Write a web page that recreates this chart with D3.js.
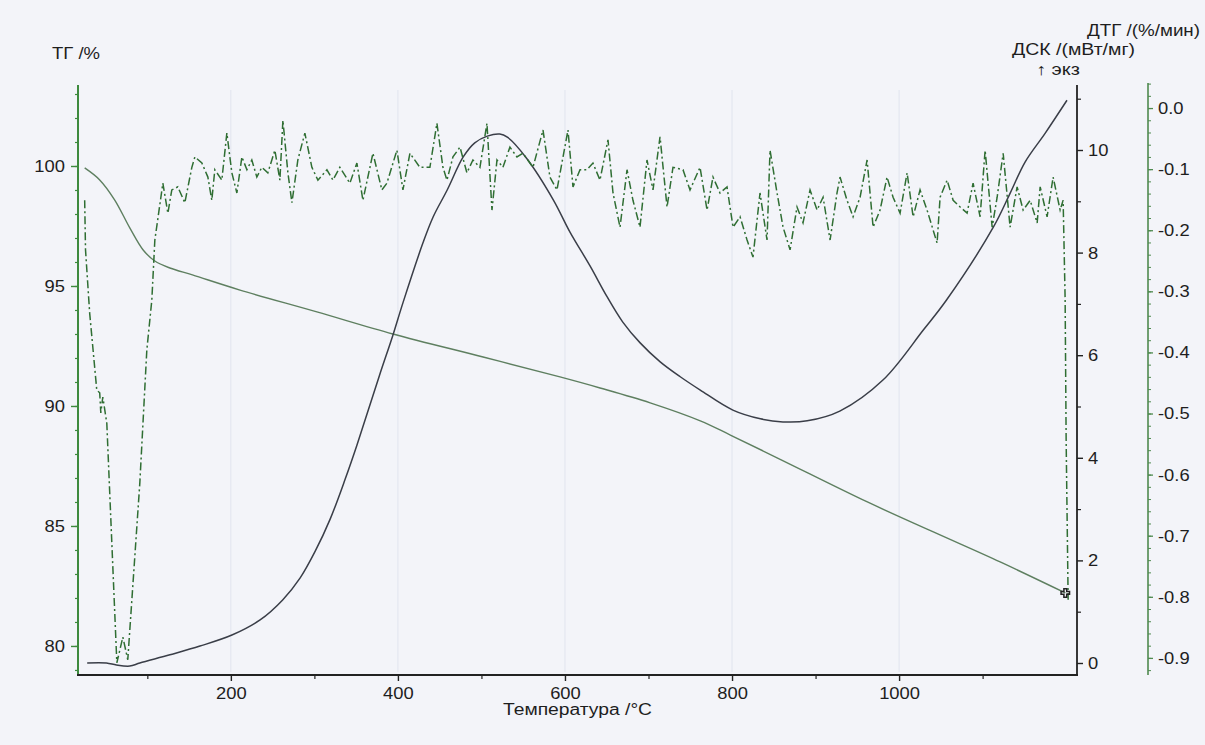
<!DOCTYPE html>
<html><head><meta charset="utf-8">
<script src="https://cdn.jsdelivr.net/npm/d3@7"></script>
<style>
html,body{margin:0;padding:0;background:#f3f4f9;}
svg{display:block;}
text{font-family:"Liberation Sans",Arial,sans-serif;fill:#1e1e1e;}
</style></head><body>
<svg id="c" width="1205" height="745"></svg>
<script>
// ---- data ----
const xTicks = [200, 400, 600, 800, 1000];
const xMinor = [100, 300, 500, 700, 900, 1100];
const tgTicks = [80, 85, 90, 95, 100];
const dscTicks = [0, 2, 4, 6, 8, 10];
const dtgTicks = [-0.9, -0.8, -0.7, -0.6, -0.5, -0.4, -0.3, -0.2, -0.1, 0.0];

// TG (%)
const tgT = [25,43,61,79,95,109,127,154,211,303,394,502,594,642,702,762,798,857,962,1041,1121,1199];
const tgV = [99.92,99.42,98.58,97.42,96.5,96.04,95.75,95.46,94.83,93.92,93.0,92.04,91.21,90.75,90.13,89.38,88.79,87.79,86.0,84.75,83.5,82.21];

// DSC (mW/mg)
const dscT = [28,51,63,79,91,127,163,202,235,262,283,301,319,337,351,378,394,406,430,442,459,478,492,507,522,531,554,586,606,630,650,669,690,714,738,762,801,834,861,890,929,981,1029,1057,1113,1133,1151,1175,1201];
const dscV = [0.0,0.0,-0.04,-0.06,0.0,0.16,0.33,0.55,0.84,1.23,1.66,2.18,2.81,3.59,4.25,5.61,6.39,7.02,8.19,8.69,9.22,9.86,10.14,10.27,10.31,10.25,9.84,9.03,8.4,7.74,7.15,6.65,6.24,5.87,5.58,5.32,4.93,4.76,4.70,4.72,4.91,5.52,6.49,7.08,8.50,9.16,9.77,10.33,10.97];

// DTG (%/min)
const dtgT = [25,26,31,39.5,43,44.3,46.7,51.5,63.5,70.7,
76.6,91,99.4,105.4,109,118.6,124.6,129.3,136.5,144.9,
153.3,156.9,165.3,172.5,177.2,180.8,189.2,195.2,201.2,207.2,
213.2,219.2,225.1,231.1,237.1,244.3,252.7,258.7,262.3,268.3,
273.1,280.2,288.6,297,304.2,315,322.2,330.5,342.5,350.9,
358.1,370.1,380.8,386.8,398.8,406,414.4,426.3,438.3,446.7,
453.9,458.7,465.9,474.3,482.6,489.8,498.2,506.6,512.6,518.6,
525.7,534.1,542.5,549.7,561.7,573.7,582,590.4,603.6,609.6,
618,626.3,633.5,641.9,651.5,657.5,665.9,674.3,681.4,689.8,
698.2,705.4,713.8,722.2,729.3,741.3,749.7,761.7,770.1,777.2,
785.6,794,801.2,809.6,818,825.1,833.5,841.9,845.5,853.9,
861.1,869.5,877.8,885,893.4,901.8,909,917.4,925.7,929.3,
937.7,944.9,953.3,961.7,968.9,977.2,985.6,992.8,1001.2,1009.6,
1016.8,1025.1,1033.5,1045.5,1049.1,1057.5,1064.7,1073.1,1081.4,1088.6,
1097,1103,1111.4,1117.4,1124.6,1132.9,1141.3,1148.5,1156.9,1165.3,
1168.9,1177.2,1184.4,1192.8,1196.4,1198.8,1200,1202.4];
const dtgV = [-0.151,-0.232,-0.336,-0.462,-0.466,-0.499,-0.473,-0.516,-0.908,-0.866,
-0.903,-0.614,-0.396,-0.314,-0.216,-0.123,-0.172,-0.134,-0.129,-0.155,
-0.097,-0.080,-0.090,-0.113,-0.151,-0.101,-0.118,-0.041,-0.106,-0.139,
-0.080,-0.101,-0.085,-0.113,-0.097,-0.106,-0.069,-0.118,-0.020,-0.106,
-0.155,-0.085,-0.041,-0.097,-0.118,-0.101,-0.118,-0.097,-0.123,-0.090,
-0.151,-0.074,-0.134,-0.123,-0.069,-0.134,-0.074,-0.097,-0.097,-0.025,
-0.097,-0.118,-0.080,-0.064,-0.106,-0.085,-0.097,-0.025,-0.167,-0.085,
-0.097,-0.064,-0.080,-0.074,-0.097,-0.036,-0.113,-0.134,-0.036,-0.129,
-0.101,-0.101,-0.090,-0.118,-0.052,-0.139,-0.195,-0.101,-0.151,-0.195,
-0.085,-0.134,-0.047,-0.162,-0.097,-0.101,-0.134,-0.097,-0.167,-0.113,
-0.139,-0.129,-0.195,-0.178,-0.216,-0.244,-0.139,-0.216,-0.069,-0.139,
-0.195,-0.232,-0.162,-0.188,-0.134,-0.167,-0.146,-0.216,-0.139,-0.113,
-0.151,-0.178,-0.146,-0.085,-0.195,-0.167,-0.113,-0.146,-0.172,-0.106,
-0.178,-0.134,-0.167,-0.221,-0.146,-0.118,-0.151,-0.162,-0.172,-0.123,
-0.178,-0.069,-0.195,-0.146,-0.074,-0.195,-0.129,-0.167,-0.151,-0.188,
-0.129,-0.178,-0.113,-0.167,-0.151,-0.314,-0.543,-0.805];

// ---- drawing ----
const svg = d3.select("#c");
svg.append("rect").attr("width",1205).attr("height",745).attr("fill","#f3f4f9");

const x = d3.scaleLinear().domain([17,1213]).range([78,1077]);
const yTG = d3.scaleLinear().domain([78.79,103.375]).range([675,85]);
const yDSC = d3.scaleLinear().domain([-0.234,11.267]).range([675,85]);
const yDTG = d3.scaleLinear().domain([-0.928,0.041]).range([675,83]);

// faint paper grid
svg.append("g").selectAll("line").data(xTicks).join("line")
  .attr("x1",d=>x(d)).attr("x2",d=>x(d)).attr("y1",90).attr("y2",672)
  .attr("stroke","#e1e4ee").attr("stroke-width",1);

function styleAxis(g, color, w){
  g.select(".domain").remove();
  g.selectAll(".tick line").attr("stroke",color).attr("stroke-width",w);
  g.selectAll(".tick text").attr("font-size",17).attr("fill","#1e1e1e");
}

// left TG axis
const gL = svg.append("g").attr("transform","translate(78,0)");
gL.call(d3.axisLeft(yTG).tickValues(d3.range(79,104,1)).tickSize(3).tickFormat(""));
styleAxis(gL,"#3e8a3e",1.2);
const gL2 = svg.append("g").attr("transform","translate(78,0)");
gL2.call(d3.axisLeft(yTG).tickValues(tgTicks).tickSize(7).tickPadding(6).tickFormat(d3.format("d")));
styleAxis(gL2,"#3e8a3e",1.4);
svg.append("line").attr("x1",78).attr("x2",78).attr("y1",85).attr("y2",676)
  .attr("stroke","#3e8a3e").attr("stroke-width",2);

// bottom axis
const gB = svg.append("g").attr("transform","translate(0,675)");
gB.call(d3.axisBottom(x).tickValues(xMinor).tickSize(4).tickFormat(""));
styleAxis(gB,"#222",1.2);
const gB2 = svg.append("g").attr("transform","translate(0,675)");
gB2.call(d3.axisBottom(x).tickValues(xTicks).tickSize(6).tickPadding(6).tickFormat(d3.format("d")));
styleAxis(gB2,"#222",1.4);
svg.append("line").attr("x1",77).attr("x2",1078).attr("y1",675).attr("y2",675)
  .attr("stroke","#222").attr("stroke-width",2);

// DSC axis
const gD = svg.append("g").attr("transform","translate(1077,0)");
gD.call(d3.axisRight(yDSC).tickValues([1,3,5,7,9,11]).tickSize(4).tickFormat(""));
styleAxis(gD,"#222",1.2);
const gD2 = svg.append("g").attr("transform","translate(1077,0)");
gD2.call(d3.axisRight(yDSC).tickValues(dscTicks).tickSize(6).tickPadding(5).tickFormat(d3.format("d")));
styleAxis(gD2,"#222",1.4);
svg.append("line").attr("x1",1077).attr("x2",1077).attr("y1",85).attr("y2",676)
  .attr("stroke","#222").attr("stroke-width",1.8);

// DTG axis
const gT = svg.append("g").attr("transform","translate(1148,0)");
gT.call(d3.axisRight(yDTG).tickValues(d3.range(-46,3,1).map(d=>d*0.02)).tickSize(3).tickFormat(""));
styleAxis(gT,"#4f8a4f",1);
const gT2 = svg.append("g").attr("transform","translate(1148,0)");
gT2.call(d3.axisRight(yDTG).tickValues(dtgTicks).tickSize(5).tickPadding(5).tickFormat(d=>d.toFixed(1)));
styleAxis(gT2,"#4f8a4f",1.3);
svg.append("line").attr("x1",1148).attr("x2",1148).attr("y1",83).attr("y2",675)
  .attr("stroke","#4f8a4f").attr("stroke-width",1.6);

// curves
const tgData = tgT.map((t,i)=>[t,tgV[i]]);
const dscData = dscT.map((t,i)=>[t,dscV[i]]);
const dtgData = dtgT.map((t,i)=>[t,dtgV[i]]);

svg.append("path").datum(tgData)
  .attr("d", d3.line().x(d=>x(d[0])).y(d=>yTG(d[1])).curve(d3.curveCatmullRom.alpha(0.5)))
  .attr("fill","none").attr("stroke","#5e7f60").attr("stroke-width",1.4);

svg.append("path").datum(dscData)
  .attr("d", d3.line().x(d=>x(d[0])).y(d=>yDSC(d[1])).curve(d3.curveCatmullRom.alpha(0.5)))
  .attr("fill","none").attr("stroke","#3a3e48").attr("stroke-width",1.5);

svg.append("path").datum(dtgData)
  .attr("d", d3.line().x(d=>x(d[0])).y(d=>yDTG(d[1])))
  .attr("fill","none").attr("stroke","#2f6e33").attr("stroke-width",1.5)
  .attr("stroke-dasharray","8,3,2,3");

// end marker on TG
const last = tgData[tgData.length-1];
svg.append("path").attr("d", d3.symbol(d3.symbolCross, 40)())
  .attr("transform",`translate(${x(last[0])},${yTG(last[1])})`)
  .attr("fill","none").attr("stroke","#222").attr("stroke-width",1.5);

// titles
function addText(txt, xx, yy, len){
  const t = svg.append("text").attr("x",xx).attr("y",yy).attr("font-size",16).text(txt);
  if(len) t.attr("textLength",len).attr("lengthAdjust","spacingAndGlyphs");
  return t;
}
addText("ТГ /%", 52, 59, 48);
addText("ДТГ /(%/мин)", 1087, 36, 113);
addText("ДСК /(мВт/мг)", 1012, 55, 123);
addText("↑ экз", 1036, 75, 44);
addText("Температура /°C", 503, 715, 149);

// slight horizontal stretch for tick labels (scan aspect)
svg.selectAll(".tick text").each(function(){
  const l = this.getComputedTextLength();
  if(l>0) d3.select(this).attr("textLength", l*1.08).attr("lengthAdjust","spacingAndGlyphs");
});
</script>
</body></html>
